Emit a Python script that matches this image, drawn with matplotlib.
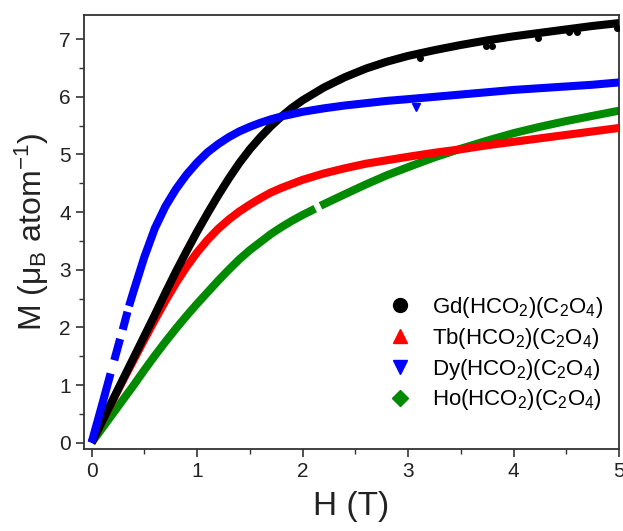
import numpy as np
import matplotlib
matplotlib.use("Agg")
from matplotlib import pyplot as plt

plt.rcParams["font.family"] = ["Liberation Sans", "DejaVu Sans"]
plt.rcParams["mathtext.fontset"] = "custom"
plt.rcParams["mathtext.rm"] = "Liberation Sans"
plt.rcParams["mathtext.it"] = "Liberation Sans:italic"
plt.rcParams["mathtext.default"] = "regular"

# M(H) curves (H in T, M in muB per atom); NaN = gap in the data
gd_h = [0, 0.1, 0.2, 0.3, 0.4, 0.5, 0.6, 0.7, 0.8, 0.9, 1.0, 1.1, 1.2, 1.3, 1.4, 1.5, 1.6, 1.7, 1.8, 1.9,
        2.0, 2.2, 2.4, 2.6, 2.8, 3.0, 3.25, 3.5, 3.75, 4.0, 4.25, 4.5, 4.75, 5.0]
gd_m = [0, 0.37, 0.74, 1.11, 1.48, 1.85, 2.22, 2.6, 2.97, 3.32, 3.66, 3.98, 4.29, 4.58, 4.85, 5.09, 5.3, 5.49, 5.66, 5.81,
        5.94, 6.16, 6.34, 6.49, 6.61, 6.71, 6.81, 6.9, 6.98, 7.05, 7.11, 7.17, 7.23, 7.28]
gd_stray_h = [3.11, 3.74, 3.8, 4.23, 4.53, 4.6, 4.98]
gd_stray_m = [6.68, 6.88, 6.88, 7.02, 7.12, 7.12, 7.2]

tb_h = [0, 0.1, 0.2, 0.3, 0.4, 0.5, 0.6, 0.7, 0.8, 0.9, 1.0, 1.1, 1.2, 1.3, 1.4, 1.5, 1.6, 1.7, 1.8, 1.9,
        2.0, 2.2, 2.4, 2.6, 2.8, 3.0, 3.25, 3.5, 3.75, 4.0, 4.25, 4.5, 4.75, 5.0]
tb_m = [0, 0.37, 0.73, 1.09, 1.44, 1.79, 2.13, 2.46, 2.77, 3.05, 3.3, 3.52, 3.71, 3.87, 4.01, 4.13, 4.24, 4.34, 4.42, 4.49,
        4.56, 4.67, 4.76, 4.84, 4.9, 4.96, 5.03, 5.09, 5.16, 5.22, 5.28, 5.34, 5.4, 5.46]

dy_h = [0, 0.1, 0.18, np.nan, 0.215, 0.27, np.nan, 0.295, 0.34, np.nan, 0.355, 0.4, 0.5, 0.6, 0.7, 0.8, 0.9,
        1.0, 1.1, 1.2, 1.3, 1.4, 1.5, 1.6, 1.7, 1.8, 1.9, 2.0, 2.2, 2.4, 2.6, 2.8, 3.0, 3.25, 3.5, 3.75,
        4.0, 4.25, 4.5, 4.75, 5.0]
dy_m = [0, 0.66, 1.2, np.nan, 1.43, 1.8, np.nan, 1.96, 2.27, np.nan, 2.37, 2.64, 3.22, 3.72, 4.1, 4.4, 4.65,
        4.86, 5.04, 5.18, 5.3, 5.4, 5.48, 5.55, 5.61, 5.66, 5.7, 5.74, 5.8, 5.85, 5.89, 5.93, 5.96, 6.0, 6.04, 6.08,
        6.12, 6.15, 6.18, 6.21, 6.25]
dy_stray_h = [3.08]
dy_stray_m = [5.83]

ho_h = [0, 0.1, 0.2, 0.3, 0.4, 0.5, 0.6, 0.7, 0.8, 0.9, 1.0, 1.1, 1.2, 1.3, 1.4, 1.5, 1.6, 1.7, 1.8, 1.9,
        2.0, 2.12, np.nan, 2.17, 2.4, 2.6, 2.8, 3.0, 3.25, 3.5, 3.75, 4.0, 4.25, 4.5, 4.75, 5.0]
ho_m = [0, 0.25, 0.5, 0.75, 1.0, 1.26, 1.51, 1.75, 1.98, 2.2, 2.41, 2.61, 2.81, 3.0, 3.18, 3.34, 3.48, 3.62, 3.74, 3.85,
        3.95, 4.06, np.nan, 4.11, 4.31, 4.48, 4.64, 4.78, 4.95, 5.1, 5.24, 5.37, 5.48, 5.58, 5.67, 5.76]

labels = ["Gd(HCO$_2$)(C$_2$O$_4$)", "Tb(HCO$_2$)(C$_2$O$_4$)",
          "Dy(HCO$_2$)(C$_2$O$_4$)", "Ho(HCO$_2$)(C$_2$O$_4$)"]

fig = plt.figure(figsize=(6.23, 5.31), dpi=100)
ax = fig.add_axes([84 / 623, 1 - 449 / 531, 535 / 623, 434 / 531])

lw = 5.8
ax.plot(ho_h, ho_m, color="#008a00", lw=lw, solid_capstyle="butt", zorder=2)
ax.plot(tb_h, tb_m, color="#ff0000", lw=lw, solid_capstyle="butt", zorder=3)
ax.plot(gd_h, gd_m, color="black", lw=lw, solid_capstyle="butt", zorder=4)
ax.plot(dy_h, dy_m, color="#0000ff", lw=lw, solid_capstyle="butt", zorder=5)
ax.plot(gd_stray_h, gd_stray_m, "o", color="black", ms=4, zorder=4)
ax.plot(dy_stray_h, dy_stray_m, "v", color="#0000ff", ms=6, zorder=5)

# legend handles: markers only
handles = [
    plt.Line2D([], [], ls="none", marker="o", color="black", ms=10),
    plt.Line2D([], [], ls="none", marker="^", color="#ff0000", ms=10),
    plt.Line2D([], [], ls="none", marker="v", color="#0000ff", ms=10),
    plt.Line2D([], [], ls="none", marker="D", color="#008a00", ms=8),
]
ax.legend(handles, labels, loc="upper left", bbox_to_anchor=(376 / 623, 1 - 284 / 531),
          bbox_transform=fig.transFigure, frameon=False, fontsize=16,
          handlelength=1.2, handletextpad=0.8, labelspacing=0.26, borderpad=0)

ax.set_xlim(-0.072, 5.0)
ax.set_ylim(-0.11, 7.42)
ax.set_xticks([0, 1, 2, 3, 4, 5])
ax.set_yticks(range(0, 8))
ax.set_xticks(np.arange(0.5, 5, 1), minor=True)
ax.set_yticks(np.arange(0.5, 7.5, 1), minor=True)
ax.tick_params(which="both", direction="out", top=False, right=False, colors="#333333",
               labelcolor="#222222", labelsize=15)
ax.tick_params(which="major", length=6, width=1.2)
ax.tick_params(which="minor", length=3.5, width=1.0)
for s in ax.spines.values():
    s.set_linewidth(1.3)
    s.set_color("#333333")

ax.set_xlabel("H (T)", fontsize=24, color="#222222", labelpad=7)
ax.set_ylabel(r"M ($\mu_B$ atom$^{-1}$)", fontsize=23, color="#222222", labelpad=6)

fig.savefig("out.png", dpi=100)
